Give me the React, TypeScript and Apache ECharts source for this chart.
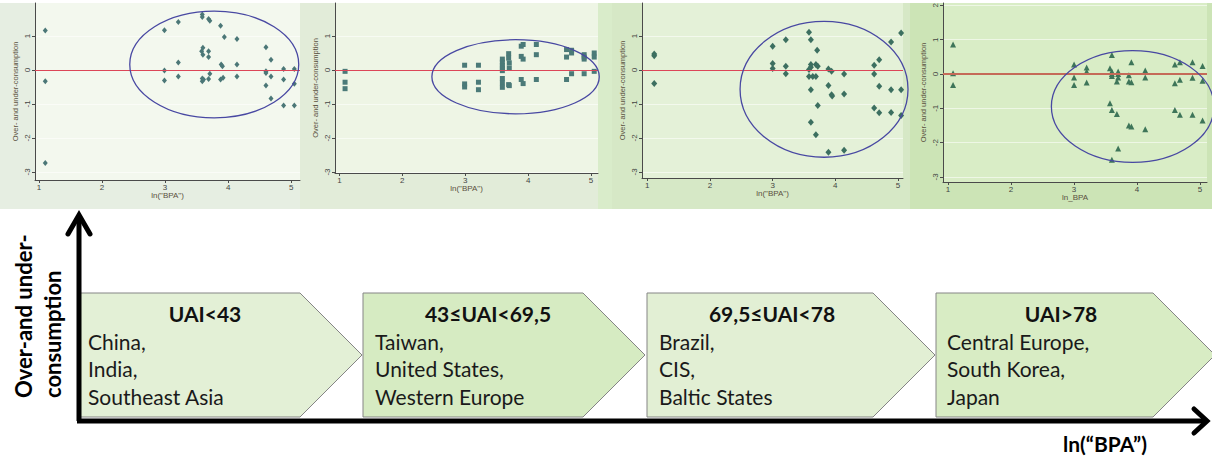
import React, { useEffect, useRef } from "react";
import * as echarts from "echarts";

// ---------- DATA ----------
const xTickValues = [1, 2, 3, 4, 5];
const yTickValues = [-3, -2, -1, 0, 1];
const yTickValuesP4 = [-3, -2, -1, 0, 1, 2];
const xAxisTitles = ['ln("BPA")', 'ln("BPA")', 'ln("BPA")', "ln_BPA"];
const yAxisTitle = "Over- and under-consumption";

// [ln(BPA), over-/under-consumption]
const panel1Points = [
  [1.1, 1.16], [1.1, -0.33], [1.1, -2.74],
  [2.99, 1.17], [2.99, -0.02], [2.99, -0.31],
  [3.21, 1.41], [3.21, 0.22], [3.21, -0.19],
  [3.59, 1.63], [3.59, 1.56], [3.6, 0.65], [3.58, 0.55], [3.6, 0.45], [3.59, -0.25], [3.59, -0.33], [3.61, -0.28],
  [3.69, 1.5], [3.71, 1.45], [3.69, 0.55], [3.69, 0.38], [3.69, -0.27], [3.71, -0.11],
  [3.88, 1.3], [3.94, 0.97], [3.89, 0.16], [3.91, 0.11], [3.88, -0.28], [3.92, -0.23],
  [4.14, 0.91], [4.14, 0.16], [4.14, -0.19],
  [4.6, 0.67], [4.6, -0.04], [4.6, -0.09], [4.6, -0.46],
  [4.68, 0.3], [4.68, -0.19], [4.68, -0.84],
  [4.88, 0.03], [4.88, -0.28], [4.88, -1.05],
  [5.05, 0.03], [5.05, -0.41], [5.05, -1.05],
];
const panel2Points = [
  [1.09, -0.04], [1.09, -0.36], [1.09, -0.55],
  [2.99, 0.14], [2.99, -0.41], [2.99, -0.5],
  [3.21, 0.14], [3.21, -0.36], [3.21, -0.58],
  [3.59, 0.32], [3.59, 0.23], [3.59, 0.13], [3.59, 0.06], [3.59, -0.02], [3.59, -0.25], [3.59, -0.38], [3.59, -0.51],
  [3.69, 0.48], [3.69, 0.35], [3.7, 0.21], [3.7, 0.06], [3.69, -0.43], [3.7, -0.46],
  [3.89, 0.7], [3.92, 0.75], [3.89, 0.4], [3.92, 0.32], [3.89, -0.28], [3.92, -0.4],
  [4.13, 0.75], [4.13, 0.45], [4.13, -0.28],
  [4.61, 0.6], [4.61, 0.38], [4.61, -0.28],
  [4.69, 0.5], [4.69, 0.58], [4.69, -0.11],
  [4.89, 0.45], [4.89, 0.38], [4.89, 0.32], [4.89, -0.11],
  [5.05, 0.5], [5.05, 0.38], [5.05, -0.04],
];
const panel3Points = [
  [1.11, 0.47], [1.11, 0.42], [1.11, -0.4],
  [3.0, 0.7], [3.0, 0.19], [3.0, 0.04],
  [3.21, 0.89], [3.21, 0.11], [3.21, -0.11],
  [3.58, 1.11], [3.61, 0.89], [3.58, 0.01], [3.61, 0.16], [3.61, 0.08], [3.58, -0.19], [3.64, -0.19], [3.61, -0.58], [3.61, -1.54],
  [3.71, 0.58], [3.69, 0.16], [3.72, 0.11], [3.69, -0.19], [3.72, -1.05], [3.69, -1.91],
  [3.89, 0.03], [3.94, -0.04], [3.89, -0.46], [3.94, -0.73], [3.95, -0.77], [3.89, -2.42],
  [4.14, -0.12], [4.14, -0.71], [4.14, -2.36],
  [4.62, 0.14], [4.62, -0.12], [4.62, -1.12],
  [4.7, 0.3], [4.7, -0.48], [4.7, -1.26],
  [4.89, 0.82], [4.89, -0.58], [4.89, -1.25],
  [5.05, 1.09], [5.05, -0.58], [5.05, -1.34],
];
const panel4Points = [
  [1.08, 0.86], [1.08, 0.02], [1.08, -0.32],
  [3.0, 0.28], [3.0, -0.1], [3.0, -0.32],
  [3.2, 0.19], [3.2, 0.07], [3.2, -0.25],
  [3.57, 0.17], [3.6, 0.55], [3.6, 0.07], [3.6, 0.0], [3.6, -0.06], [3.57, -0.85], [3.6, -1.05], [3.6, -2.5],
  [3.68, -0.22], [3.7, 0.07], [3.7, 0.0], [3.7, -0.1], [3.68, -1.17], [3.7, -2.17],
  [3.87, -0.04], [3.87, -0.22], [3.91, -0.24], [3.91, 0.34], [3.87, -1.5], [3.91, -1.53],
  [4.13, 0.1], [4.13, -0.1], [4.13, -1.61],
  [4.6, 0.28], [4.6, -0.27], [4.6, -1.05],
  [4.68, 0.34], [4.68, -0.17], [4.68, -1.19],
  [4.88, 0.34], [4.88, -0.11], [4.88, -1.19],
  [5.04, 0.23], [5.04, -0.2], [5.04, -1.36],
];
// ellipse: [centre x, centre y, radius x, radius y] in data units
const panelEllipses = [
  [3.78, 0.16, 1.34, 1.57],
  [3.8, -0.2, 1.33, 1.09],
  [3.82, -0.57, 1.34, 2.0],
  [3.93, -0.95, 1.29, 1.63],
];

const uaiGroups = ["UAI<43", "43\u2264UAI<69,5", "69,5\u2264UAI<78", "UAI>78"];
const groupRegions = [
  ["China,", "India,", "Southeast Asia"],
  ["Taiwan,", "United States,", "Western Europe"],
  ["Brazil,", "CIS,", "Baltic States"],
  ["Central Europe,", "South Korea,", "Japan"],
];
const bigYTitle = ["Over-and under-", "consumption"];
const bigXTitle = "ln(\u201CBPA\u201D)";

// ---------- LAYOUT / STYLE ----------
const panelData = [panel1Points, panel2Points, panel3Points, panel4Points];
const grids = [
  { left: 35, top: 3, width: 265, height: 177 },
  { left: 335, top: 3, width: 263, height: 170 },
  { left: 642, top: 3, width: 261, height: 175 },
  { left: 943, top: 3, width: 264, height: 179 },
];
const xRanges = [[0.937, 5.14], [0.93, 5.11], [0.915, 5.08], [0.92, 5.11]];
const yRanges = [[-3.24, 1.97], [-3.03, 1.97], [-3.18, 1.97], [-3.15, 2.07]];
const symbols = ["diamond", "rect", "diamond", "triangle"];
const symbolSizes: any[] = [[5, 6], [5, 5], [6, 7], [6, 6]];
const markerColors = ["#4b7777", "#4b7a78", "#3c6f60", "#3e7559"];
const zeroLineColors = ["#dc4658", "#dc4658", "#dc4658", "#c56a58"];
const zeroLineWidths = [1.2, 1.2, 1.2, 2.2];
const outerBg = [
  { x: 0, w: 300, c: "#e6eee2" },
  { x: 300, w: 300, c: "#e2ecd9" },
  { x: 598, w: 14, c: "#d9ecca" },
  { x: 612, w: 298, c: "#d6e8c6" },
  { x: 910, w: 302, c: "#cce4b6" },
];
const plotBg = ["#f3f8ee", "#eef5e5", "#e4f1d8", "#d9edc6"];
const boxLeft = [80, 363, 647, 936];
const boxRight = [300, 583, 873, 1153];
const boxInset = [8, 12, 12, 11];
const boxFill = ["#e3f0d6", "#d6ebc2", "#e2efd4", "#d8ecc4"];
const BOX_TOP = 293;
const BOX_BOTTOM = 417;
const FONT = 'Lato, "Open Sans", sans-serif';

const isInt = (v: number) => Math.abs(v - Math.round(v)) < 1e-6;

export default function App() {
  const ref = useRef<HTMLDivElement>(null);

  useEffect(() => {
    document.body.style.margin = "0";
    const chart = echarts.init(ref.current!, undefined, { renderer: "svg" });

    const xAxes: any[] = [];
    const yAxes: any[] = [];
    const series: any[] = [];
    const graphics: any[] = [];

    outerBg.forEach((b) =>
      graphics.push({ type: "rect", silent: true, z: -20, shape: { x: b.x, y: 3, width: b.w, height: 206 }, style: { fill: b.c } })
    );

    grids.forEach((g, i) => {
      graphics.push({ type: "rect", silent: true, z: -10, shape: { x: g.left, y: g.top, width: g.width, height: g.height }, style: { fill: plotBg[i] } });
      const yTicks = i === 3 ? yTickValuesP4 : yTickValues;
      xAxes.push({
        type: "value",
        gridIndex: i,
        min: xRanges[i][0],
        max: xRanges[i][1],
        splitLine: { show: false },
        axisLine: { onZero: false, lineStyle: { color: "#4a4a4a", width: 1 } },
        axisTick: { length: 3, customValues: xTickValues, lineStyle: { color: "#4a4a4a" } },
        axisLabel: {
          fontSize: 8,
          color: "#444",
          margin: 3,
          fontFamily: "Liberation Sans, Arial, sans-serif",
          customValues: xTickValues,
          formatter: (v: number) => (isInt(v) ? String(Math.round(v)) : ""),
        },
        name: xAxisTitles[i],
        nameLocation: "middle",
        nameGap: 11,
        nameTextStyle: { fontSize: 8, color: "#5a5040", fontFamily: "Liberation Sans, Arial, sans-serif" },
      });
      yAxes.push({
        type: "value",
        gridIndex: i,
        min: yRanges[i][0],
        max: yRanges[i][1],
        axisLine: { onZero: false, lineStyle: { color: "#4a4a4a", width: 1 } },
        axisTick: { length: 3, customValues: yTicks, lineStyle: { color: "#4a4a4a" } },
        axisLabel: {
          rotate: 90,
          fontSize: 8,
          color: "#444",
          margin: 4,
          fontFamily: "Liberation Sans, Arial, sans-serif",
          customValues: yTicks,
          formatter: (v: number) => (isInt(v) && v <= yTicks[yTicks.length - 1] ? String(Math.round(v)) : ""),
        },
        splitLine: { show: true, lineStyle: { color: "rgba(255,255,255,0.55)", width: 1 } },
        name: yAxisTitle,
        nameLocation: "middle",
        nameRotate: 90,
        nameGap: 16,
        nameTextStyle: { fontSize: 7.5, color: "#5a5040", fontFamily: "Liberation Sans, Arial, sans-serif" },
      });
      series.push({
        type: "scatter",
        xAxisIndex: i,
        yAxisIndex: i,
        data: panelData[i],
        symbol: symbols[i],
        symbolSize: symbolSizes[i],
        itemStyle: { color: markerColors[i], opacity: 1 },
        silent: true,
        z: 4,
        markLine: {
          silent: true,
          symbol: ["none", "none"],
          label: { show: false },
          lineStyle: { color: zeroLineColors[i], width: zeroLineWidths[i], type: "solid" },
          data: [{ yAxis: 0 }],
        },
      });
      series.push({
        type: "custom",
        xAxisIndex: i,
        yAxisIndex: i,
        data: [panelEllipses[i]],
        encode: { x: 0, y: 1 },
        silent: true,
        z: 5,
        renderItem: (_params: any, api: any) => {
          const c = api.coord([api.value(0), api.value(1)]);
          const s = api.size([api.value(2), api.value(3)], [api.value(0), api.value(1)]);
          return {
            type: "ellipse",
            shape: { cx: c[0], cy: c[1], rx: s[0], ry: s[1] },
            style: { fill: "none", stroke: "#4848a2", lineWidth: 1.3 },
          };
        },
      });
    });

    // ----- bottom infographic -----
    uaiGroups.forEach((title, i) => {
      const L = boxLeft[i];
      const R = boxRight[i];
      const mid = (BOX_TOP + BOX_BOTTOM) / 2;
      const tipX = R + (BOX_BOTTOM - BOX_TOP) / 2;
      graphics.push({
        type: "polygon",
        silent: true,
        shape: { points: [[L, BOX_TOP], [R, BOX_TOP], [tipX, mid], [R, BOX_BOTTOM], [L, BOX_BOTTOM]] },
        style: { fill: boxFill[i], stroke: "#858585", lineWidth: 1 },
      });
      graphics.push({
        type: "text",
        silent: true,
        x: L + 125,
        y: 313,
        style: { text: title, fontSize: 21, fontWeight: "bold", fontFamily: FONT, fill: "#111", align: "center", verticalAlign: "middle", textAlign: "center", textVerticalAlign: "middle" },
      });
      groupRegions[i].forEach((line, j) => {
        graphics.push({
          type: "text",
          silent: true,
          x: L + boxInset[i],
          y: 341 + j * 27.5,
          style: { text: line, fontSize: 21, fontFamily: FONT, fill: "#1a1a1a", align: "left", verticalAlign: "middle", textAlign: "left", textVerticalAlign: "middle" },
        });
      });
    });

    // axes arrows
    const axisStroke = { stroke: "#000", lineWidth: 5, lineCap: "round", lineJoin: "miter" };
    graphics.push({ type: "line", silent: true, shape: { x1: 79, y1: 421, x2: 79, y2: 216 }, style: { ...axisStroke, lineCap: "butt" } });
    graphics.push({ type: "polyline", silent: true, shape: { points: [[68, 234], [79, 215], [90, 234]] }, style: axisStroke });
    graphics.push({ type: "line", silent: true, shape: { x1: 77, y1: 421, x2: 1206, y2: 421 }, style: { ...axisStroke, lineCap: "butt" } });
    graphics.push({ type: "polyline", silent: true, shape: { points: [[1194, 409], [1207, 421], [1194, 433]] }, style: axisStroke });

    bigYTitle.forEach((t, j) => {
      graphics.push({
        type: "text",
        silent: true,
        x: 23 + j * 29,
        y: 398,
        rotation: Math.PI / 2,
        style: { text: t, fontSize: 22, fontWeight: "bold", fontFamily: FONT, fill: "#000", align: "left", verticalAlign: "middle", textAlign: "left", textVerticalAlign: "middle" },
      });
    });
    graphics.push({
      type: "text",
      silent: true,
      x: 1105,
      y: 443,
      style: { text: bigXTitle, fontSize: 21, fontWeight: "bold", fontFamily: FONT, fill: "#000", align: "center", verticalAlign: "middle", textAlign: "center", textVerticalAlign: "middle" },
    });

    chart.setOption({
      animation: false,
      backgroundColor: "#ffffff",
      grid: grids.map((g) => ({ ...g, containLabel: false })),
      xAxis: xAxes,
      yAxis: yAxes,
      series,
      graphic: { elements: graphics },
    });

    return () => chart.dispose();
  }, []);

  return <div ref={ref} style={{ width: 1212, height: 459 }} />;
}
